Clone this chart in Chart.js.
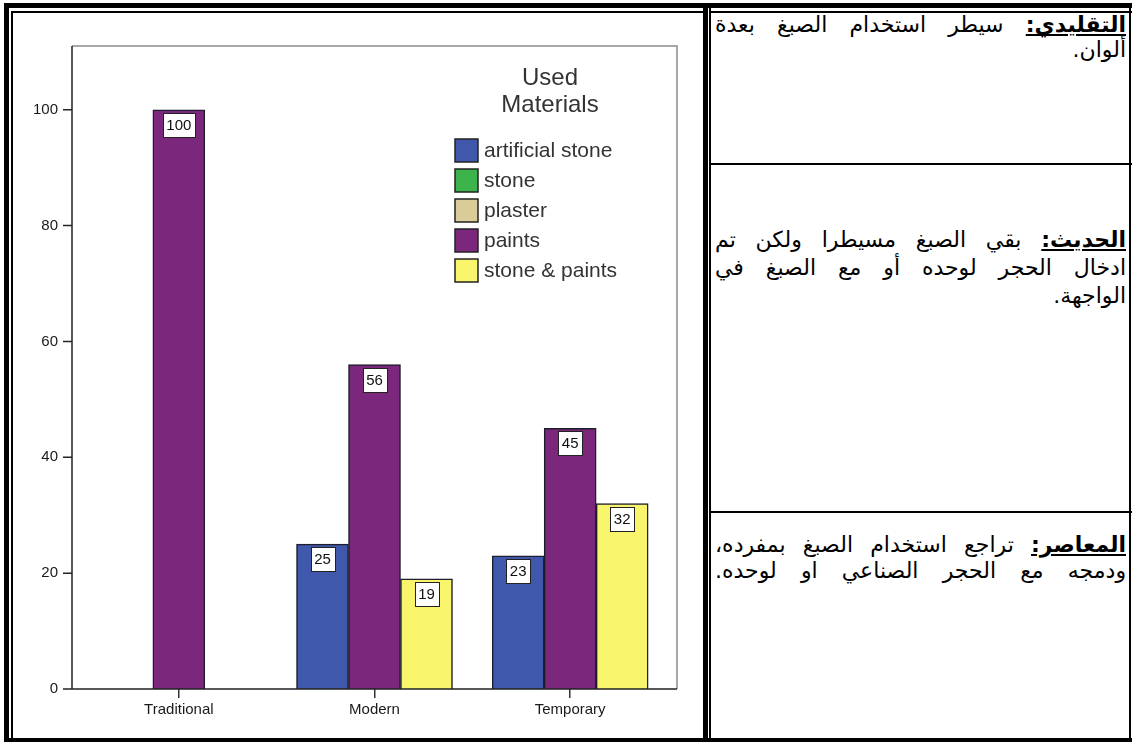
<!DOCTYPE html>
<html>
<head>
<meta charset="utf-8">
<script src="https://cdn.jsdelivr.net/npm/chart.js@4.4.1/dist/chart.umd.min.js"></script>
<style>
  html, body { margin: 0; padding: 0; background: #fff; }
  body { width: 1132px; height: 742px; position: relative; overflow: hidden; }
  .ln { position: absolute; background: #000; }
  #chartBox { position: absolute; left: 14px; top: 14px; width: 688px; height: 722px; }
  .cell { position: absolute; left: 715px; width: 411px; direction: rtl;
          font-family: "DejaVu Sans", sans-serif; font-size: 22px; color: #000; }
  .cell .full { text-align: justify; text-align-last: justify; }
  .cell .last { text-align: right; }
  .cell b { text-decoration: underline; }
</style>
</head>
<body>
<!-- table borders -->
<div class="ln" style="left:4px;top:3px;width:1128px;height:5px"></div>
<div class="ln" style="left:4px;top:3px;width:5px;height:739px"></div>
<div class="ln" style="left:11px;top:11px;width:692px;height:2px"></div>
<div class="ln" style="left:711px;top:11px;width:421px;height:2px"></div>
<div class="ln" style="left:11px;top:11px;width:2px;height:728px"></div>
<div class="ln" style="left:703px;top:3px;width:5px;height:739px"></div>
<div class="ln" style="left:709px;top:8px;width:2px;height:734px"></div>
<div class="ln" style="left:4px;top:738px;width:1128px;height:4px"></div>
<div class="ln" style="left:1129px;top:3px;width:2px;height:739px"></div>
<div class="ln" style="left:711px;top:163px;width:421px;height:2px"></div>
<div class="ln" style="left:711px;top:511px;width:421px;height:2px"></div>

<div id="chartBox"><canvas id="myChart" width="688" height="722"></canvas></div>

<div class="cell" style="top:12px;line-height:25px">
  <div class="full"><b>التقليدي:</b> سيطر استخدام الصبغ بعدة</div>
  <div class="last">ألوان.</div>
</div>
<div class="cell" style="top:226px;line-height:28px">
  <div class="full"><b>الحديث:</b> بقي الصبغ مسيطرا ولكن تم</div>
  <div class="full">ادخال الحجر لوحده أو مع الصبغ في</div>
  <div class="last">الواجهة.</div>
</div>
<div class="cell" style="top:532px;line-height:26px">
  <div class="full"><b>المعاصر:</b> تراجع استخدام الصبغ بمفرده،</div>
  <div class="full">ودمجه مع الحجر الصناعي او لوحده.</div>
</div>

<script>
const categories = ['Traditional', 'Modern', 'Temporary'];
const materials = ['artificial stone', 'stone', 'plaster', 'paints', 'stone & paints'];
const artificialStone = [null, 25, 23];
const stone = [null, null, null];
const plaster = [null, null, null];
const paints = [100, 56, 45];
const stoneAndPaints = [null, 19, 32];
const yTicks = [0, 20, 40, 60, 80, 100];
const legendTitle = ['Used', 'Materials'];
const colours = ['#3f58ab', '#3cb44b', '#d9cc98', '#7b287c', '#f8f46c'];

Chart.defaults.font.family = '"Liberation Sans", Arial, sans-serif';

// frame + axis lines (SPSS style box a bit wider than the categories)
const axisFrame = {
    id: 'axisFrame',
    afterDatasetsDraw(chart) {
        const {ctx, chartArea: a, scales: {y}} = chart;
        const left = a.left - 9, right = a.right + 9;
        ctx.save();
        ctx.lineWidth = 1.5;
        ctx.strokeStyle = '#8c8c8c';
        ctx.beginPath();
        ctx.moveTo(left, a.top);
        ctx.lineTo(right, a.top);
        ctx.lineTo(right, a.bottom);
        ctx.stroke();
        ctx.strokeStyle = '#222';
        ctx.beginPath();
        ctx.moveTo(left, a.top);
        ctx.lineTo(left, a.bottom);
        ctx.lineTo(right, a.bottom);
        y.ticks.forEach(t => {
            const py = y.getPixelForValue(t.value);
            ctx.moveTo(left - 9, py);
            ctx.lineTo(left, py);
        });
        ctx.stroke();
        ctx.restore();
    }
};

// value boxes at the top of each bar
const barValues = {
    id: 'barValues',
    afterDatasetsDraw(chart) {
        const ctx = chart.ctx;
        ctx.save();
        ctx.font = '15px "Liberation Sans", Arial, sans-serif';
        chart.data.datasets.forEach((ds, i) => {
            chart.getDatasetMeta(i).data.forEach((bar, j) => {
                const v = ds.data[j];
                if (v === null || v === undefined) return;
                const txt = String(v);
                const w = Math.round(ctx.measureText(txt).width + 7), h = 24;
                const x0 = Math.round(bar.x - w / 2), y0 = Math.round(bar.y + 3);
                ctx.fillStyle = '#fff';
                ctx.fillRect(x0, y0, w, h);
                ctx.strokeStyle = '#222';
                ctx.lineWidth = 1;
                ctx.strokeRect(x0 + 0.5, y0 + 0.5, w, h);
                ctx.fillStyle = '#111';
                ctx.textAlign = 'center';
                ctx.textBaseline = 'middle';
                ctx.fillText(txt, bar.x, y0 + h / 2 + 1);
            });
        });
        ctx.restore();
    }
};

// legend inside the plot, like the SPSS one
const boxLegend = {
    id: 'boxLegend',
    afterDraw(chart) {
        const ctx = chart.ctx;
        ctx.save();
        ctx.fillStyle = '#333';
        ctx.textAlign = 'center';
        ctx.textBaseline = 'middle';
        ctx.font = '24px "Liberation Sans", Arial, sans-serif';
        legendTitle.forEach((t, i) => ctx.fillText(t, 536, 64 + i * 27));
        ctx.textAlign = 'left';
        ctx.font = '21px "Liberation Sans", Arial, sans-serif';
        chart.data.datasets.forEach((ds, i) => {
            const cy = 136 + i * 30;
            ctx.fillStyle = ds.backgroundColor;
            ctx.fillRect(441, cy - 11, 23, 23);
            ctx.strokeStyle = '#222';
            ctx.lineWidth = 1.5;
            ctx.strokeRect(441, cy - 11, 23, 23);
            ctx.fillStyle = '#333';
            ctx.fillText(ds.label, 470, cy + 1);
        });
        ctx.restore();
    }
};

const seriesData = [artificialStone, stone, plaster, paints, stoneAndPaints];

var myChart = new Chart(document.getElementById('myChart'), {
    type: 'bar',
    data: {
        labels: categories,
        datasets: materials.map((m, i) => ({
            label: m,
            data: seriesData[i],
            backgroundColor: colours[i],
            borderColor: '#1e1e2e',
            borderWidth: 1.5,
            barThickness: 52,
            skipNull: true
        }))
    },
    options: {
        responsive: false,
        animation: false,
        layout: {
            padding: { left: 0, right: 34, top: 23, bottom: 0 }
        },
        scales: {
            x: {
                grid: { offset: false, drawOnChartArea: false, color: '#333', lineWidth: 1.5, tickLength: 9 },
                border: { display: false },
                ticks: { color: '#1a1a1a', font: { size: 15 }, padding: 3 },
                afterFit: s => { s.height = 47; }
            },
            y: {
                min: 0,
                max: 111,
                grid: { display: false, drawTicks: false },
                border: { display: false },
                ticks: { color: '#1a1a1a', font: { size: 15 }, padding: 23 },
                afterBuildTicks: s => { s.ticks = yTicks.map(v => ({ value: v })); },
                afterFit: s => { s.width = 67; }
            }
        },
        plugins: {
            legend: { display: false },
            tooltip: { enabled: false }
        }
    },
    plugins: [axisFrame, barValues, boxLegend]
});
</script>
</body>
</html>
